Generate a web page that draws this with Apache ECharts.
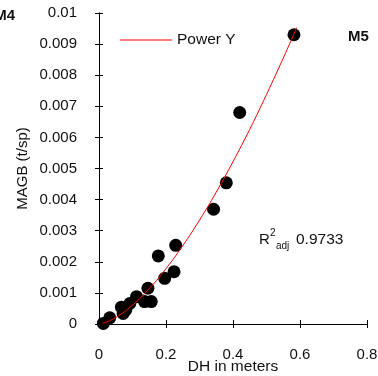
<!DOCTYPE html>
<html>
<head>
<meta charset="utf-8">
<script src="https://cdn.jsdelivr.net/npm/echarts@6/dist/echarts.min.js"></script>
<style>
  html, body { margin: 0; padding: 0; background: #fff; }
  #chart { width: 378px; height: 376px; }
</style>
</head>
<body>
<div id="chart"></div>
<script>
// observed points
var dhX = [0.013, 0.032, 0.067, 0.072, 0.08, 0.092, 0.112, 0.136, 0.146, 0.156, 0.177, 0.196, 0.224, 0.229, 0.342, 0.380, 0.42, 0.582];
var magbY = [0.00002, 0.0002, 0.00054, 0.00034, 0.00045, 0.00066, 0.00088, 0.00072, 0.00115, 0.00072, 0.00219, 0.00147, 0.00168, 0.00253, 0.00369, 0.00454, 0.0068, 0.0093];
// fitted curve
var fitX = [0.01, 0.05, 0.1, 0.15, 0.2, 0.25, 0.3, 0.35, 0.4, 0.45, 0.5, 0.55, 0.59];
var fitY = [0.000017, 0.00021, 0.00061, 0.00114, 0.00178, 0.00252, 0.00334, 0.00424, 0.00522, 0.00626, 0.00738, 0.00855, 0.00953];
var xTicks = [0, 0.2, 0.4, 0.6, 0.8];
var yTicks = [0, 0.001, 0.002, 0.003, 0.004, 0.005, 0.006, 0.007, 0.008, 0.009, 0.01];

var font = 'Liberation Sans, Arial, sans-serif';
var chart = echarts.init(document.getElementById('chart'));

var pts = dhX.map(function (x, i) { return [x, magbY[i]]; });
var fit = fitX.map(function (x, i) { return [x, fitY[i]]; });

var axisLine = { lineStyle: { color: '#000', width: 1 } };
var xBase = {
  type: 'value', min: xTicks[0], max: xTicks[xTicks.length - 1], interval: 0.2,
  splitLine: { show: false }, axisLine: axisLine
};
var yBase = {
  type: 'value', min: yTicks[0], max: yTicks[yTicks.length - 1], interval: 0.001,
  splitLine: { show: false }, axisLine: axisLine
};

var option = {
  backgroundColor: '#fff',
  animation: false,
  grid: { left: 99, right: 11, top: 13, bottom: 52, outerBoundsMode: 'none' },
  legend: {
    data: [{ name: 'Power Y', icon: 'rect' }],
    left: 120, top: 32, padding: 0,
    itemWidth: 52, itemHeight: 1, itemGap: 5,
    textStyle: { fontFamily: font, fontSize: 15.5, color: '#111' }
  },
  xAxis: [
    Object.assign({}, xBase, {
      name: 'DH in meters', nameLocation: 'middle', nameGap: 35, nameMoveOverlap: false,
      nameTextStyle: { fontFamily: font, fontSize: 15.5, color: '#111' },
      axisTick: { show: true, inside: false, length: 4, lineStyle: { color: '#000' } },
      axisLabel: { fontFamily: font, fontSize: 15, color: '#111', margin: 23,
        formatter: function (v) { return String(+v.toFixed(1)); } }
    }),
    Object.assign({}, xBase, {
      position: 'bottom',
      axisTick: { show: true, inside: true, length: 4, lineStyle: { color: '#000' } },
      axisLabel: { show: false }
    })
  ],
  yAxis: [
    Object.assign({}, yBase, {
      name: 'MAGB (t/sp)', nameLocation: 'middle', nameGap: 69, nameMoveOverlap: false,
      nameTextStyle: { fontFamily: font, fontSize: 15, color: '#111' },
      axisTick: { show: true, inside: false, length: 4, lineStyle: { color: '#000' } },
      axisLabel: { fontFamily: font, fontSize: 15, color: '#111', margin: 22,
        formatter: function (v) { return String(+v.toFixed(3)); } }
    }),
    Object.assign({}, yBase, {
      position: 'left',
      axisTick: { show: true, inside: true, length: 4, lineStyle: { color: '#000' } },
      axisLabel: { show: false }
    })
  ],
  graphic: [
    { type: 'text', right: 363, top: 8, style: { text: 'M4', font: 'bold 15px ' + font, fill: '#111' } },
    { type: 'text', left: 348, top: 29, style: { text: 'M5', font: 'bold 15px ' + font, fill: '#111' } },
    { type: 'text', left: 259, top: 232, style: { text: 'R', font: '15px ' + font, fill: '#111' } },
    { type: 'text', left: 270, top: 228, style: { text: '2', font: '10px ' + font, fill: '#111' } },
    { type: 'text', left: 276, top: 241, style: { text: 'adj', font: '10px ' + font, fill: '#111' } },
    { type: 'text', left: 296, top: 232, style: { text: '0.9733', font: '15.5px ' + font, fill: '#111' } }
  ],
  series: [
    {
      name: 'Observed', type: 'scatter', data: pts,
      symbol: 'circle', symbolSize: 13,
      itemStyle: { color: '#000', opacity: 1 }, z: 2
    },
    {
      name: 'Power Y', type: 'line', data: fit, smooth: true,
      symbol: 'none', lineStyle: { color: '#ff0000', width: 1 },
      itemStyle: { color: '#ff0000' }, z: 3
    }
  ]
};

chart.setOption(option);
</script>
</body>
</html>
